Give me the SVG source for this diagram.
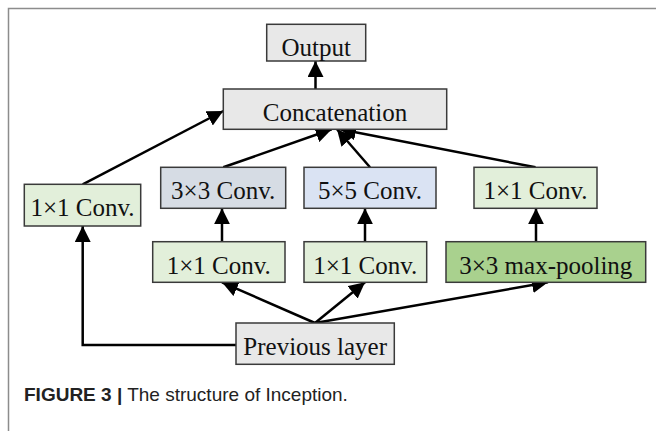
<svg xmlns="http://www.w3.org/2000/svg" width="656" height="431" viewBox="0 0 656 431">
<defs>
<style>
.box{stroke:#3a3a3a;stroke-width:1.5}
.gray{fill:#e8e8e8}
.lg{fill:#e2efda}
.bg{fill:#d6dce4}
.bl{fill:#dae3f3}
.g{fill:#a9d18e}
.t{font-family:"Liberation Serif","Times New Roman",serif;font-size:25px;fill:#111;text-anchor:middle}
.c{fill:none;stroke:#000;stroke-width:2.5}
.cap{font-family:"Liberation Sans",Arial,sans-serif;font-size:19px;fill:#222}
</style>
<marker id="ah" viewBox="0 0 16 16" refX="16" refY="8" markerWidth="16" markerHeight="16" markerUnits="userSpaceOnUse" orient="auto">
<path d="M0,0 L16,8 L0,16 z" fill="#000"/>
</marker>
</defs>
<rect width="656" height="431" fill="#fff"/>
<path d="M8.5,431 V8.5 H656" fill="none" stroke="#8c8c8c" stroke-width="1.5"/>
<g id="connectors">
<line class="c" x1="315.5" y1="89" x2="315.5" y2="61" marker-end="url(#ah)"/>
<line class="c" x1="82.7" y1="184.3" x2="223.3" y2="111" marker-end="url(#ah)"/>
<line class="c" x1="223.3" y1="167.3" x2="331.7" y2="129.3" marker-end="url(#ah)"/>
<line class="c" x1="370" y1="167.3" x2="337" y2="129.3" marker-end="url(#ah)"/>
<line class="c" x1="535.5" y1="167.3" x2="340" y2="129.3" marker-end="url(#ah)"/>
<line class="c" x1="222" y1="241.7" x2="222" y2="208.3" marker-end="url(#ah)"/>
<line class="c" x1="365" y1="241.7" x2="365" y2="208.3" marker-end="url(#ah)"/>
<line class="c" x1="536" y1="241.7" x2="536" y2="208.3" marker-end="url(#ah)"/>
<line class="c" x1="315" y1="323" x2="222" y2="282.3" marker-end="url(#ah)"/>
<line class="c" x1="315" y1="323" x2="365" y2="282.3" marker-end="url(#ah)"/>
<line class="c" x1="315" y1="323" x2="548" y2="282.3" marker-end="url(#ah)"/>
<polyline class="c" points="236,345 82.7,345 82.7,226" marker-end="url(#ah)"/>
</g>
<g id="output"><rect class="box gray" x="266.7" y="24.3" width="99" height="36.7"/><text class="t" x="316.2" y="56.3">Output</text></g>
<g id="concat"><rect class="box gray" x="223.3" y="89" width="223.4" height="40.3"/><text class="t" x="335" y="120.7">Concatenation</text></g>
<g id="conv1x1_left"><rect class="box lg" x="24.3" y="184.3" width="116.4" height="41.7"/><text class="t" x="82.5" y="216">1×1 Conv.</text></g>
<g id="conv3x3"><rect class="box bg" x="160.7" y="167.3" width="125" height="41"/><text class="t" x="223.2" y="199.3">3×3 Conv.</text></g>
<g id="conv5x5"><rect class="box bl" x="304" y="167.3" width="132" height="41"/><text class="t" x="370" y="199.3">5×5 Conv.</text></g>
<g id="conv1x1_right"><rect class="box lg" x="474" y="167.3" width="123" height="41"/><text class="t" x="535.5" y="199.3">1×1 Conv.</text></g>
<g id="conv1x1_a"><rect class="box lg" x="152.7" y="241.7" width="132.3" height="40.6"/><text class="t" x="218.8" y="273.5">1×1 Conv.</text></g>
<g id="conv1x1_b"><rect class="box lg" x="304" y="241.7" width="122.7" height="40.6"/><text class="t" x="365.3" y="273.5">1×1 Conv.</text></g>
<g id="maxpool"><rect class="box g" x="446" y="241.7" width="199.7" height="40.6"/><text class="t" x="545.8" y="273.5">3×3 max-pooling</text></g>
<g id="previous"><rect class="box gray" x="236" y="323" width="158.3" height="41.3"/><text class="t" x="315.2" y="355">Previous layer</text></g>
<text class="cap" x="24" y="401"><tspan font-weight="bold">FIGURE 3 |</tspan> The structure of Inception.</text>
</svg>
